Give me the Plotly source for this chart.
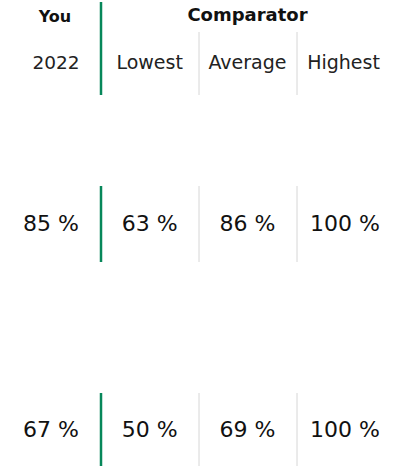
import plotly.graph_objects as go

# ---- data ----
group_headers = ["You", "Comparator"]
column_labels = ["2022", "Lowest", "Average", "Highest"]
row1_values = [85, 63, 86, 100]
row2_values = [67, 50, 69, 100]

W, H = 411, 466
FONT = "DejaVu Sans"
GREEN = "#07875a"
GRAY = "#d6d6d6"

fig = go.Figure()

# column centers (pixel layout)
hdr_x = [56, 149.7, 247.5, 343.5]
val_x = [51, 149.7, 247.5, 345]
hdr_sizes = [18.5, 19, 19, 19]

# group headers
fig.add_trace(go.Scatter(
    x=[55], y=[17.5], mode="text", text=[f"<b>{group_headers[0]}</b>"],
    textfont=dict(family=FONT, size=16, color="#111111"), hoverinfo="skip"))
fig.add_trace(go.Scatter(
    x=[247.5], y=[16.5], mode="text", text=[f"<b>{group_headers[1]}</b>"],
    textfont=dict(family=FONT, size=18, color="#111111"), hoverinfo="skip"))

# column labels
fig.add_trace(go.Scatter(
    x=hdr_x, y=[64] * 4, mode="text", text=column_labels,
    textfont=dict(family=FONT, size=hdr_sizes, color="#222222"), hoverinfo="skip"))

# values
for vals, yc in [(row1_values, 225), (row2_values, 431.5)]:
    fig.add_trace(go.Scatter(
        x=val_x, y=[yc] * 4, mode="text", text=[f"{v} %" for v in vals],
        textfont=dict(family=FONT, size=22, color="#111111"), hoverinfo="skip"))

# separators
shapes = []
for (y0, y1, gy0) in [(2, 95, 32), (186, 262, 186), (393, 466, 393)]:
    shapes.append(dict(type="line", x0=101, x1=101, y0=y0, y1=y1,
                       line=dict(color=GREEN, width=2.5), layer="above"))
    for gx in (199, 297):
        shapes.append(dict(type="line", x0=gx, x1=gx, y0=gy0, y1=y1,
                           line=dict(color=GRAY, width=1), layer="above"))

fig.update_layout(
    width=W, height=H, margin=dict(l=0, r=0, t=0, b=0),
    paper_bgcolor="white", plot_bgcolor="white", showlegend=False,
    shapes=shapes,
    xaxis=dict(range=[0, W], visible=False, fixedrange=True),
    yaxis=dict(range=[H, 0], visible=False, fixedrange=True),
)

fig.write_html(
    "out.html",
    config={"displayModeBar": False},
    post_script="document.body.style.margin='0';document.body.style.overflow='hidden';",
)
